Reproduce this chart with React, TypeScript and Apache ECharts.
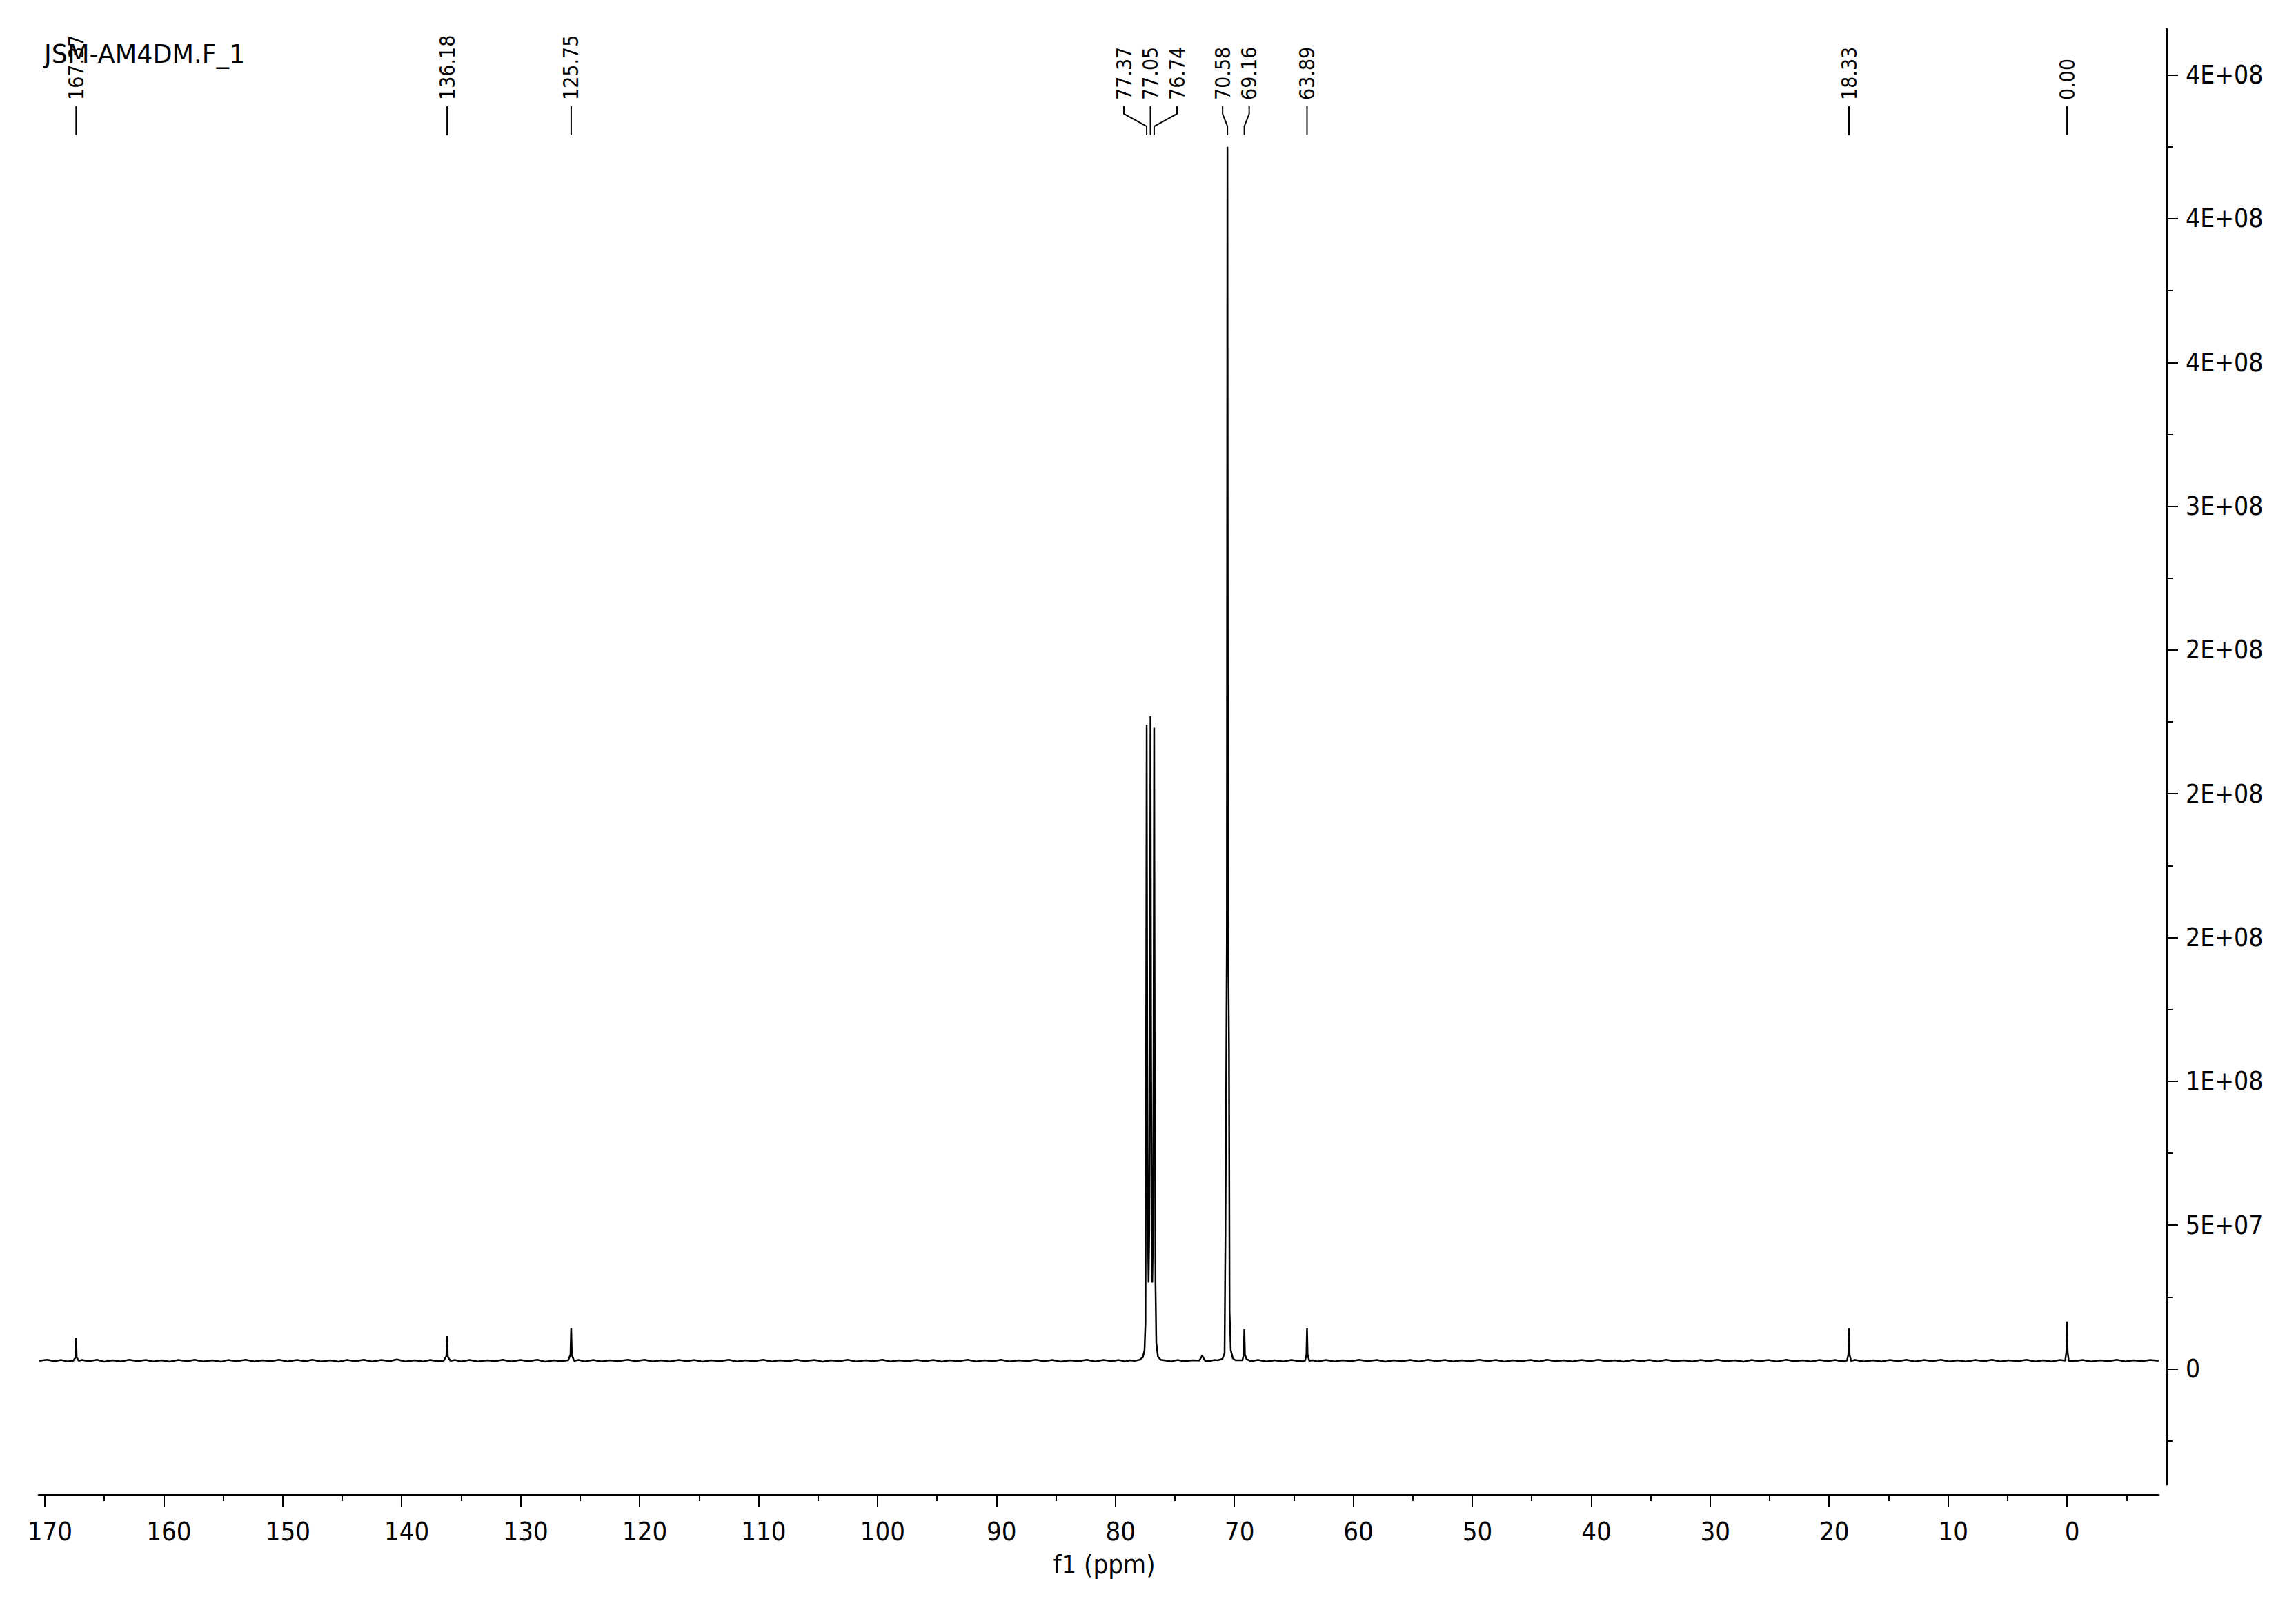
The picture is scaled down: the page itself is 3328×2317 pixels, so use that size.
import React, { useEffect, useRef } from "react";
import * as echarts from "echarts";

// ---------- texts ----------
const TITLE = "JSM-AM4DM.F_1";
const X_NAME = "f1 (ppm)";

// ---------- axes ----------
const X_MIN = -7.71;
const X_MAX = 170.52;
const X_MAJOR_TICKS = [170, 160, 150, 140, 130, 120, 110, 100, 90, 80, 70, 60, 50, 40, 30, 20, 10, 0];
const X_MINOR_TICKS = [165, 155, 145, 135, 125, 115, 105, 95, 85, 75, 65, 55, 45, 35, 25, 15, 5, -5];

const Y_MIN = -4.02e7;
const Y_MAX = 4.66e8;
const Y_TICK_VALUES = [0, 5e7, 1e8, 1.5e8, 2e8, 2.5e8, 3e8, 3.5e8, 4e8, 4.5e8];
const Y_TICK_LABELS = ["0", "5E+07", "1E+08", "2E+08", "2E+08", "2E+08", "3E+08", "4E+08", "4E+08", "4E+08"];
const Y_MINOR_TICKS = [-2.5e7, 2.5e7, 7.5e7, 1.25e8, 1.75e8, 2.25e8, 2.75e8, 3.25e8, 3.75e8, 4.25e8];

// ---------- peak picking labels ----------
const PEAK_LABELS = ["167.37", "136.18", "125.75", "77.37", "77.05", "76.74", "70.58", "69.16", "63.89", "18.33", "0.00"];
const PEAK_PPM = [167.37, 136.18, 125.75, 77.37, 77.05, 76.74, 70.58, 69.16, 63.89, 18.33, 0.0];

// ---------- spectrum (ppm, intensity in millions) ----------
const INTENSITY_UNIT = 1e6;
const BASELINE: [number, number][] = [
  [170.5, 2.8], [169.8, 3.2], [169.2, 2.7], [168.6, 3.1], [168.1, 2.6], [166.9, 3.1], [166.3, 2.7],
  [165.6, 3.2], [165.0, 2.5], [164.3, 3.0], [163.6, 2.6], [162.9, 3.2], [162.2, 2.7], [161.5, 3.1],
  [160.9, 2.6], [160.2, 3.0], [159.5, 2.5], [158.8, 3.1], [158.0, 2.7], [157.4, 3.2], [156.7, 2.6],
  [155.9, 3.0], [155.2, 2.5], [154.6, 3.1], [153.9, 2.7], [153.1, 3.2], [152.4, 2.6], [151.7, 3.0],
  [151.0, 2.7], [150.3, 3.2], [149.6, 2.6], [148.8, 3.1], [148.1, 2.7], [147.5, 3.2], [146.8, 2.6],
  [146.0, 3.0], [145.3, 2.5], [144.6, 3.1], [143.9, 2.7], [143.2, 3.2], [142.5, 2.6], [141.7, 3.1],
  [141.0, 2.7], [140.4, 3.3], [139.7, 2.6], [138.9, 3.0], [138.2, 2.6], [137.6, 3.1], [137.0, 2.7],
  [135.5, 3.1], [135.0, 2.6], [134.3, 3.1], [133.6, 2.6], [132.8, 3.0], [132.1, 2.7], [131.5, 3.2],
  [130.8, 2.6], [130.0, 3.1], [129.3, 2.7], [128.6, 3.2], [127.9, 2.5], [127.2, 3.0], [126.6, 2.7],
  [125.1, 3.1], [124.6, 2.6], [123.9, 3.1], [123.2, 2.6], [122.5, 3.0], [121.8, 2.7], [121.0, 3.2],
  [120.3, 2.7], [119.6, 3.2], [118.9, 2.6], [118.2, 3.0], [117.5, 2.6], [116.7, 3.1], [116.0, 2.7],
  [115.4, 3.1], [114.7, 2.5], [114.0, 3.0], [113.2, 2.7], [112.5, 3.2], [111.8, 2.6], [111.1, 3.0],
  [110.4, 2.7], [109.6, 3.2], [108.9, 2.6], [108.2, 3.0], [107.5, 2.7], [106.8, 3.2], [106.1, 2.7],
  [105.3, 3.1], [104.6, 2.5], [103.9, 3.0], [103.2, 2.7], [102.5, 3.2], [101.8, 2.6], [101.0, 3.0],
  [100.3, 2.7], [99.6, 3.2], [98.9, 2.6], [98.2, 3.0], [97.5, 2.7], [96.7, 3.1], [96.0, 2.7],
  [95.3, 3.1], [94.6, 2.5], [93.9, 3.0], [93.2, 2.7], [92.4, 3.2], [91.7, 2.6], [91.0, 3.0],
  [90.3, 2.7], [89.6, 3.2], [88.9, 2.6], [88.1, 3.0], [87.4, 2.7], [86.7, 3.2], [86.0, 2.7],
  [85.3, 3.1], [84.6, 2.5], [83.8, 3.0], [83.1, 2.7], [82.4, 3.2], [81.7, 2.6], [81.0, 3.1],
  [80.3, 2.7], [79.7, 3.1], [79.2, 2.6], [78.8, 3.0], [78.4, 2.8],
  [75.9, 3.0], [75.3, 2.6], [74.8, 3.1], [74.2, 2.7], [73.5, 3.0], [72.1, 2.7], [71.7, 3.1],
  [68.6, 2.7], [68.0, 3.1], [67.3, 2.6], [66.6, 3.0], [65.9, 2.6], [65.2, 3.1], [64.6, 2.7],
  [63.4, 3.0], [63.0, 2.6], [62.3, 3.1], [61.6, 2.6], [60.9, 3.0], [60.2, 2.7], [59.5, 3.2],
  [58.8, 2.7], [58.0, 3.1], [57.3, 2.5], [56.6, 3.0], [55.9, 2.7], [55.2, 3.1], [54.5, 2.6],
  [53.7, 3.2], [53.0, 2.7], [52.3, 3.1], [51.6, 2.6], [50.9, 3.0], [50.2, 2.7], [49.4, 3.2],
  [48.7, 2.7], [48.0, 3.1], [47.3, 2.5], [46.6, 3.0], [45.9, 2.7], [45.1, 3.1], [44.4, 2.6],
  [43.7, 3.2], [43.0, 2.7], [42.3, 3.0], [41.6, 2.6], [40.8, 3.1], [40.1, 2.7], [39.4, 3.2],
  [38.7, 2.7], [38.0, 3.0], [37.3, 2.5], [36.5, 3.1], [35.8, 2.7], [35.1, 3.1], [34.4, 2.6],
  [33.7, 3.2], [33.0, 2.7], [32.2, 3.0], [31.5, 2.6], [30.8, 3.1], [30.1, 2.7], [29.4, 3.2],
  [28.7, 2.7], [27.9, 3.0], [27.2, 2.5], [26.5, 3.1], [25.8, 2.7], [25.1, 3.1], [24.4, 2.6],
  [23.6, 3.2], [22.9, 2.7], [22.2, 3.0], [21.5, 2.6], [20.8, 3.1], [20.1, 2.7], [19.5, 3.1],
  [19.0, 2.7], [17.8, 3.1], [17.1, 2.6], [16.3, 3.0], [15.6, 2.6], [14.9, 3.1], [14.2, 2.7],
  [13.5, 3.2], [12.8, 2.6], [12.0, 3.1], [11.3, 2.7], [10.6, 3.2], [9.9, 2.6], [9.2, 3.0],
  [8.5, 2.6], [7.7, 3.1], [7.0, 2.7], [6.3, 3.2], [5.6, 2.6], [4.9, 3.0], [4.1, 2.7],
  [3.4, 3.2], [2.7, 2.6], [2.0, 3.0], [1.3, 2.6], [0.6, 3.1],
  [-0.6, 2.7], [-1.3, 3.1], [-2.0, 2.6], [-2.8, 3.0], [-3.5, 2.7], [-4.2, 3.2], [-4.9, 2.6],
  [-5.6, 3.0], [-6.3, 2.7], [-7.0, 3.1], [-7.7, 2.8],
];
const PEAK_SHAPES: [number, number][] = [
  // 167.37
  [167.6, 2.9], [167.42, 4.0], [167.37, 10.7], [167.32, 4.0], [167.15, 2.8],
  // 136.18
  [136.45, 2.9], [136.24, 4.5], [136.18, 11.4], [136.12, 4.2], [135.9, 2.8],
  // 125.75
  [126.0, 3.0], [125.81, 5.0], [125.75, 14.3], [125.69, 4.8], [125.5, 2.8],
  // CDCl3 triplet
  [77.95, 3.2], [77.7, 4.0], [77.55, 6.5], [77.47, 16], [77.42, 110], [77.37, 224], [77.32, 110],
  [77.26, 45], [77.21, 30], [77.15, 48], [77.1, 115], [77.05, 227], [77.0, 115], [76.95, 45],
  [76.9, 30], [76.84, 46], [76.79, 110], [76.74, 223], [76.69, 105], [76.63, 30], [76.56, 9],
  [76.42, 4.2], [76.2, 3.2],
  // small bump
  [72.95, 2.9], [72.7, 4.6], [72.45, 2.8],
  // 70.58
  [71.4, 3.0], [71.0, 3.5], [70.82, 5.5], [70.75, 45], [70.63, 150], [70.58, 425], [70.53, 160],
  [70.45, 111], [70.4, 20], [70.3, 6.5], [70.12, 3.6], [69.9, 3.0],
  // 69.16
  [69.32, 3.0], [69.21, 5.0], [69.16, 13.8], [69.11, 5.0], [68.98, 3.4],
  // 63.89
  [64.05, 2.9], [63.94, 5.0], [63.89, 14.1], [63.84, 5.0], [63.7, 2.8],
  // 18.33
  [18.5, 2.9], [18.38, 5.0], [18.33, 14.1], [18.28, 5.0], [18.15, 2.8],
  // 0.00 (TMS)
  [0.15, 2.9], [0.05, 6.0], [0.0, 16.5], [-0.05, 6.0], [-0.15, 2.8],
];

const FONT = "'DejaVu Sans Condensed', 'DejaVu Sans', sans-serif";
const TITLE_FONT = "'DejaVu Sans', sans-serif";

export default function App() {
  const ref = useRef<HTMLDivElement>(null);

  useEffect(() => {
    if (!ref.current) return;
    const chart = echarts.init(ref.current, undefined, { renderer: "svg" });

    const data = [...BASELINE, ...PEAK_SHAPES]
      .map(([p, v]) => [p, v * INTENSITY_UNIT])
      .sort((a, b) => b[0] - a[0]);

    const xCommon = {
      type: "value" as const,
      min: X_MIN,
      max: X_MAX,
      inverse: true,
      position: "bottom" as const,
      offset: 15,
      splitLine: { show: false },
      gridIndex: 0,
    };
    const yCommon = {
      type: "value" as const,
      min: Y_MIN,
      max: Y_MAX,
      position: "right" as const,
      offset: 11,
      splitLine: { show: false },
      gridIndex: 0,
    };

    chart.setOption({
      animation: false,
      backgroundColor: "#ffffff",
      grid: { left: 56, right: 199, top: 42, bottom: 166 },
      xAxis: [
        {
          ...xCommon,
          axisLine: { show: true, onZero: false, lineStyle: { color: "#000", width: 3 } },
          axisTick: { show: true, customValues: X_MAJOR_TICKS, length: 18, lineStyle: { color: "#000", width: 2 } },
          axisLabel: {
            show: true,
            customValues: X_MAJOR_TICKS,
            color: "#000",
            fontSize: 38,
            fontFamily: FONT,
            margin: 34,
            padding: [0, 0, 0, 15],
            formatter: (v: number) => String(v),
          },
          name: X_NAME,
          nameLocation: "middle",
          nameGap: 82,
          nameMoveOverlap: false,
          nameTextStyle: { color: "#000", fontSize: 38, fontFamily: FONT, padding: [0, 0, 0, 16] },
        },
        {
          ...xCommon,
          axisLine: { show: false, onZero: false },
          axisTick: { show: true, customValues: X_MINOR_TICKS, length: 9, lineStyle: { color: "#000", width: 2 } },
          axisLabel: { show: false },
        },
      ],
      yAxis: [
        {
          ...yCommon,
          axisLine: { show: true, onZero: false, lineStyle: { color: "#000", width: 3 } },
          axisTick: { show: true, customValues: Y_TICK_VALUES, length: 17, lineStyle: { color: "#000", width: 2 } },
          axisLabel: {
            show: true,
            customValues: Y_TICK_VALUES,
            color: "#000",
            fontSize: 37,
            fontFamily: FONT,
            margin: 28,
            formatter: (v: number) => {
              const i = Y_TICK_VALUES.findIndex((t) => Math.abs(t - v) < 1);
              return i >= 0 ? Y_TICK_LABELS[i] : "";
            },
          },
        },
        {
          ...yCommon,
          axisLine: { show: false, onZero: false },
          axisTick: { show: true, customValues: Y_MINOR_TICKS, length: 9, lineStyle: { color: "#000", width: 2 } },
          axisLabel: { show: false },
        },
      ],
      series: [
        {
          type: "line",
          xAxisIndex: 0,
          yAxisIndex: 0,
          data,
          showSymbol: false,
          symbol: "none",
          silent: true,
          lineStyle: { color: "#000", width: 2.5 },
        },
      ],
    });

    // ---- peak labels, positioned from the x axis scale ----
    const px = PEAK_PPM.map((p) => chart.convertToPixel({ xAxisIndex: 0 }, p) as number);
    const order = px.map((_, i) => i).sort((a, b) => px[a] - px[b]);
    const SPACING = 38.5;
    const groups: number[][] = [];
    order.forEach((i) => {
      const g = groups[groups.length - 1];
      if (g && px[i] - px[g[g.length - 1]] < SPACING) g.push(i);
      else groups.push([i]);
    });
    const labelX: number[] = new Array(px.length).fill(0);
    groups.forEach((g) => {
      const c = g.reduce((s, i) => s + px[i], 0) / g.length;
      g.forEach((i, k) => {
        labelX[i] = c + (k - (g.length - 1) / 2) * SPACING;
      });
    });

    const graphics: any[] = [
      {
        type: "text",
        x: 64,
        y: 60,
        style: { text: TITLE, fill: "#000", font: `36.5px ${TITLE_FONT}`, textAlign: "left", textVerticalAlign: "top" },
      },
    ];
    PEAK_LABELS.forEach((t, i) => {
      graphics.push({
        type: "text",
        x: labelX[i],
        y: 145,
        rotation: Math.PI / 2,
        style: { text: t, fill: "#000", font: `30px ${FONT}`, textAlign: "left", textVerticalAlign: "middle" },
      });
      graphics.push({
        type: "polyline",
        shape: { points: [[labelX[i], 154], [labelX[i], 165], [px[i], 183], [px[i], 196]] },
        style: { stroke: "#000", lineWidth: 2, fill: null },
      });
    });
    chart.setOption({ graphic: graphics });

    return () => chart.dispose();
  }, []);

  return (
    <div
      ref={ref}
      style={{ position: "fixed", left: 0, top: 0, width: 3328, height: 2317, background: "#fff" }}
    />
  );
}
